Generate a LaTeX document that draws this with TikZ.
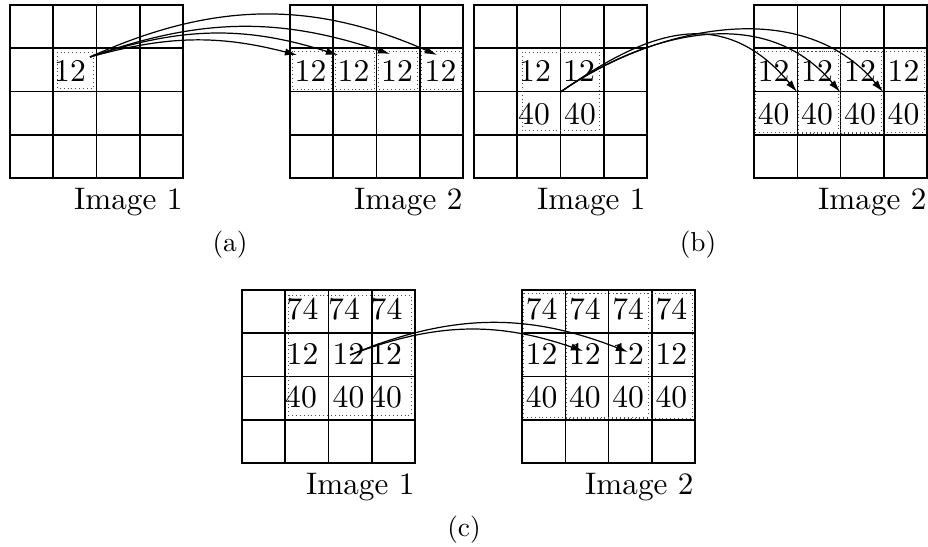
\documentclass[tikz,border=0pt]{standalone}
\usepackage{fontspec}
\usetikzlibrary{arrows.meta}
\begin{document}
\begin{tikzpicture}[x=0.0231214cm,y=0.0231214cm,
  gridline/.style={line width=1pt, line cap=rect},
  dbox/.style={dotted, line width=0.55pt, black!70},
  num/.style={font=\fontsize{10}{12}\selectfont, inner sep=0pt, scale=2.08},
  imglabel/.style={font=\fontsize{10}{12}\selectfont, inner sep=0pt, scale=2.05, anchor=north east},
  sublabel/.style={font=\fontsize{10}{12}\selectfont, inner sep=0pt, scale=1.8},
  arr/.style={line width=0.8pt, -{Latex[length=8pt,width=4.8pt]}}]
\useasboundingbox (0,0) rectangle (928,-546);

% grids
\foreach \gx/\gy in {10/5,290/5,474/5,754/5,242/290,522/290}{
  \foreach \i in {0,...,4}{
    \draw[gridline] (\gx+\i*43.25,-\gy) -- (\gx+\i*43.25,-\gy-173);
    \draw[gridline] (\gx,-\gy-\i*43.25) -- (\gx+173,-\gy-\i*43.25);
  }
}

% dotted boxes
\draw[dbox] (57,-52) rectangle (93,-88);
\foreach \c in {0,...,3}{
  \draw[dbox] (292+\c*43.25,-51) rectangle (331.25+\c*43.25,-89);
}
\draw[dbox] (522,-52) rectangle (599,-130);
\draw[dbox] (755,-51) rectangle (838,-132);
\draw[dbox] (798,-51.5) rectangle (881,-133);
\draw[dbox] (840,-51) rectangle (924,-132);
\draw[dbox] (288,-295) rectangle (411,-415);
\draw[dbox] (523,-293) rectangle (648,-417);
\draw[dbox] (566,-293.5) rectangle (692,-418);

% (a) texts
\node[num] (a1) at (70,-70.5) {12};
\node[num] (a2c0) at (310.5,-70.5) {12};
\node[num] (a2c1) at (353.5,-70.5) {12};
\node[num] (a2c2) at (397,-70.5) {12};
\node[num] (a2c3) at (440.5,-70.5) {12};

% (b) texts
\node[num] (b1a) at (535,-70.5) {12};
\node[num] (b1b) at (579,-70.5) {12};
\node[num] (b1c) at (534,-113.9) {40};
\node[num] (b1d) at (580,-113.9) {40};
\node[num] (b2a) at (773.6,-70.5) {12};
\node[num] (b2b) at (817,-70.5) {12};
\node[num] (b2c) at (860,-70.5) {12};
\node[num] (b2d) at (903.5,-70.5) {12};
\node[num] (b2e) at (773.6,-113.9) {40};
\node[num] (b2f) at (817,-113.9) {40};
\node[num] (b2g) at (860,-113.9) {40};
\node[num] (b2h) at (903.5,-113.9) {40};

% (c) texts left
\node[num] (c1a) at (302.5,-309.6) {74};
\node[num] (c1b) at (344,-309.6) {74};
\node[num] (c1c) at (386.5,-309.6) {74};
\node[num] (c1d) at (302.5,-353.9) {12};
\node[num] (c1e) at (348.5,-353.9) {12};
\node[num] (c1f) at (386,-353.9) {12};
\node[num] (c1g) at (301,-397) {40};
\node[num] (c1h) at (348.5,-397) {40};
\node[num] (c1i) at (386,-397) {40};
% (c) texts right
\node[num] (c2a) at (541.6,-309.6) {74};
\node[num] (c2b) at (584.9,-309.6) {74};
\node[num] (c2c) at (628.1,-309.6) {74};
\node[num] (c2d) at (671.4,-309.6) {74};
\node[num] (c2e) at (541.6,-353.9) {12};
\node[num] (c2f) at (584.9,-353.9) {12};
\node[num] (c2g) at (628.1,-353.9) {12};
\node[num] (c2h) at (671.4,-353.9) {12};
\node[num] (c2i) at (541.6,-397) {40};
\node[num] (c2j) at (584.9,-397) {40};
\node[num] (c2k) at (628.1,-397) {40};
\node[num] (c2l) at (671.4,-397) {40};

% captions
\node[imglabel] (ia1) at (183,-188) {Image 1};
\node[imglabel] (ia2) at (463,-188) {Image 2};
\node[imglabel] (ib1) at (646,-188) {Image 1};
\node[imglabel] (ib2) at (927,-188) {Image 2};
\node[imglabel] (ic1) at (415,-473) {Image 1};
\node[imglabel] (ic2) at (694,-473) {Image 2};
\node[sublabel] (la) at (230,-245) {(a)};
\node[sublabel] (lb) at (698,-245) {(b)};
\node[sublabel] (lc) at (464,-530) {(c)};

% arrows (a)
\coordinate (as) at (90,-57);
\coordinate (ae0) at (297,-55);
\coordinate (ae1) at (338,-55);
\coordinate (ae2) at (390,-54);
\coordinate (ae3) at (437,-55);
\draw[arr] (as) to[bend left=15] (ae0);
\draw[arr] (as) to[bend left=18] (ae1);
\draw[arr] (as) to[bend left=19] (ae2);
\draw[arr] (as) to[bend left=24] (ae3);

% arrows (b)
\coordinate (bs) at (560.5,-92);
\coordinate (be0) at (797,-92);
\coordinate (be1) at (840,-92);
\coordinate (be2) at (883,-92);
\draw[arr] (bs) to[out=35,in=130,out distance=2.31cm,in distance=2.77cm] (be0);
\draw[arr] (bs) to[out=35,in=130,out distance=2.31cm,in distance=2.77cm] (be1);
\draw[arr] (bs) to[out=35,in=130,out distance=2.54cm,in distance=3.0cm] (be2);

% arrows (c)
\coordinate (cs) at (350,-355);
\coordinate (ce0) at (583,-351);
\coordinate (ce1) at (628,-352);
\draw[arr] (cs) to[bend left=20] (ce0);
\draw[arr] (cs) to[bend left=22] (ce1);
\end{tikzpicture}
\end{document}
